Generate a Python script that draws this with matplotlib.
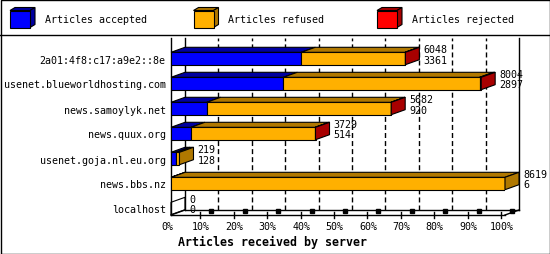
import numpy as np
import matplotlib
matplotlib.use("Agg")
import matplotlib.pyplot as plt
from matplotlib.patches import Polygon, Rectangle
from matplotlib.transforms import ScaledTranslation

# ---- data ----
servers = ["2a01:4f8:c17:a9e2::8e", "usenet.blueworldhosting.com", "news.samoylyk.net",
           "news.quux.org", "usenet.goja.nl.eu.org", "news.bbs.nz", "localhost"]
offered = np.array([6048, 8004, 5682, 3729, 219, 8619, 0])
accepted = np.array([3361, 2897, 920, 514, 128, 6, 0])
rejected = np.array([8, 40, 6, 9, 0, 0, 0])
refused = offered - accepted - rejected

tick_vals = np.arange(0, 101, 10)
tick_labels = [f"{t}%" for t in tick_vals]
legend_labels = ["Articles accepted", "Articles refused", "Articles rejected"]
xlabel = "Articles received by server"

front = ["#0000ff", "#ffb000", "#ff0000"]
dark = ["#0000a0", "#b07800", "#a80000"]

plt.rcParams["font.family"] = ["DejaVu Sans Mono"]
plt.rcParams["font.size"] = 7.2
plt.rcParams["lines.scale_dashes"] = False

W, H = 550, 255
fig = plt.figure(figsize=(W / 100, H / 100), dpi=100)

# plot area in pixels
x0_px, x1_px = 171, 505
top_px, bot_px = 39, 216
row0_px, row_step = 59.5, 25
ax = fig.add_axes([x0_px / W, 1 - bot_px / H, (x1_px - x0_px) / W, (bot_px - top_px) / H])
ax.set_xlim(0, 100)
ylo = (bot_px - row0_px) / row_step
yhi = (top_px - row0_px) / row_step
ax.set_ylim(ylo, yhi)
ax.set_facecolor("none")

# pixel -> data units
ux = 100 / (x1_px - x0_px)
uy = 1 / row_step
dx = 14 * ux
dy = 5 * uy  # going "back" means up -> smaller y value

rows = np.arange(len(servers))
scale = 100 / offered.max()
segs = [accepted * scale, refused * scale, rejected * scale]
bh = 12.4 * uy

# back wall grid
for t in tick_vals[1:-1]:
    ax.plot([t + dx, t + dx], [ylo - dy, yhi], color="black", lw=1,
            dashes=(3.6, 2.2), zorder=1, clip_on=False)
ax.plot([dx, dx], [ylo - dy, yhi], color="black", lw=1, zorder=1, clip_on=False)
ax.plot([100 + dx, 100 + dx], [ylo - dy, yhi], color="black", lw=1, zorder=1, clip_on=False)
# floor
ax.plot([dx, 100 + dx], [ylo - dy, ylo - dy], color="black", lw=1, zorder=1, clip_on=False)
ax.plot([0, dx], [ylo, ylo - dy], color="black", lw=1, zorder=1, clip_on=False)
ax.plot([100, 100 + dx], [ylo, ylo - dy], color="black", lw=1, zorder=1, clip_on=False)

# bars
for i in rows:
    left = 0.0
    top = i - bh / 2
    bot = i + bh / 2
    last = None
    for k in range(3):
        w = segs[k][i]
        if w <= 0:
            continue
        ax.barh(i, w, left=left, height=bh, color=front[k], edgecolor="black",
                linewidth=0.8, zorder=3)
        ax.add_patch(Polygon([[left, top], [left + w, top], [left + w + dx, top - dy],
                              [left + dx, top - dy]], closed=True, facecolor=dark[k],
                             edgecolor="black", linewidth=0.8, zorder=3, clip_on=False))
        left += w
        last = k
    if last is None:
        ax.add_patch(Polygon([[0, top], [0, bot], [dx, bot - dy], [dx, top - dy]], closed=True,
                             fill=False, edgecolor="black", linewidth=0.8, zorder=3, clip_on=False))
    else:
        ax.add_patch(Polygon([[left, top], [left, bot], [left + dx, bot - dy], [left + dx, top - dy]],
                             closed=True, facecolor=dark[last], edgecolor="black",
                             linewidth=0.8, zorder=3, clip_on=False))
    tx = left + dx + 4 * ux
    ax.text(tx, i - 0.38, str(offered[i]), ha="left", va="center", zorder=4, clip_on=False)
    ax.text(tx, i + 0.04, str(accepted[i]), ha="left", va="center", zorder=4, clip_on=False)

# floor tick marks
for t in tick_vals[1:]:
    ax.plot([t - 4 * ux, t - 4 * ux], [ylo - 3 * uy, ylo + 3 * uy], color="black", lw=1,
            clip_on=False, zorder=2)
    ax.plot([t + 7 * ux], [ylo - 4 * uy], marker="s", ms=2.2, color="black",
            clip_on=False, zorder=2)

# axes
for s in ["top", "right"]:
    ax.spines[s].set_visible(False)
ax.spines["left"].set_linewidth(1)
ax.spines["bottom"].set_linewidth(1)
ax.set_yticks(rows, servers)
ax.set_xticks(tick_vals, tick_labels)
ax.tick_params(axis="y", length=0, pad=3.8)
ax.tick_params(axis="x", length=0, pad=4.5)
shift = ScaledTranslation(-3.5 / 100, 0, fig.dpi_scale_trans)
for lab in ax.get_xticklabels():
    lab.set_transform(lab.get_transform() + shift)

# overlay in pixel coords: frame, legend, title
ov = fig.add_axes([0, 0, 1, 1], zorder=-1)
ov.set_xlim(0, W)
ov.set_ylim(H, 0)
ov.axis("off")
ov.add_patch(Rectangle((0.5, 0.5), W - 1, H - 1, fill=False, edgecolor="black", lw=1))
ov.plot([0, W], [35.5, 35.5], color="black", lw=1)

ov2 = fig.add_axes([0, 0, 1, 1], zorder=5)
ov2.set_xlim(0, W)
ov2.set_ylim(H, 0)
ov2.axis("off")
for k, lab in enumerate(legend_labels):
    cx = 10 + 183.5 * k
    ov2.add_patch(Polygon([[cx, 11.5], [cx + 5, 8.5], [cx + 25, 8.5], [cx + 20, 11.5]],
                          closed=True, facecolor=dark[k], edgecolor="black", lw=0.8))
    ov2.add_patch(Polygon([[cx + 20, 11.5], [cx + 25, 8.5], [cx + 25, 25.5], [cx + 20, 28.5]],
                          closed=True, facecolor=dark[k], edgecolor="black", lw=0.8))
    ov2.add_patch(Rectangle((cx, 11.5), 20, 17, facecolor=front[k], edgecolor="black", lw=0.8))
    ov2.text(cx + 35, 20, lab, ha="left", va="center")

ov2.text(178, 242, xlabel, ha="left", va="center", fontweight="bold", fontsize=8.4)

fig.savefig("out.png", dpi=100)
